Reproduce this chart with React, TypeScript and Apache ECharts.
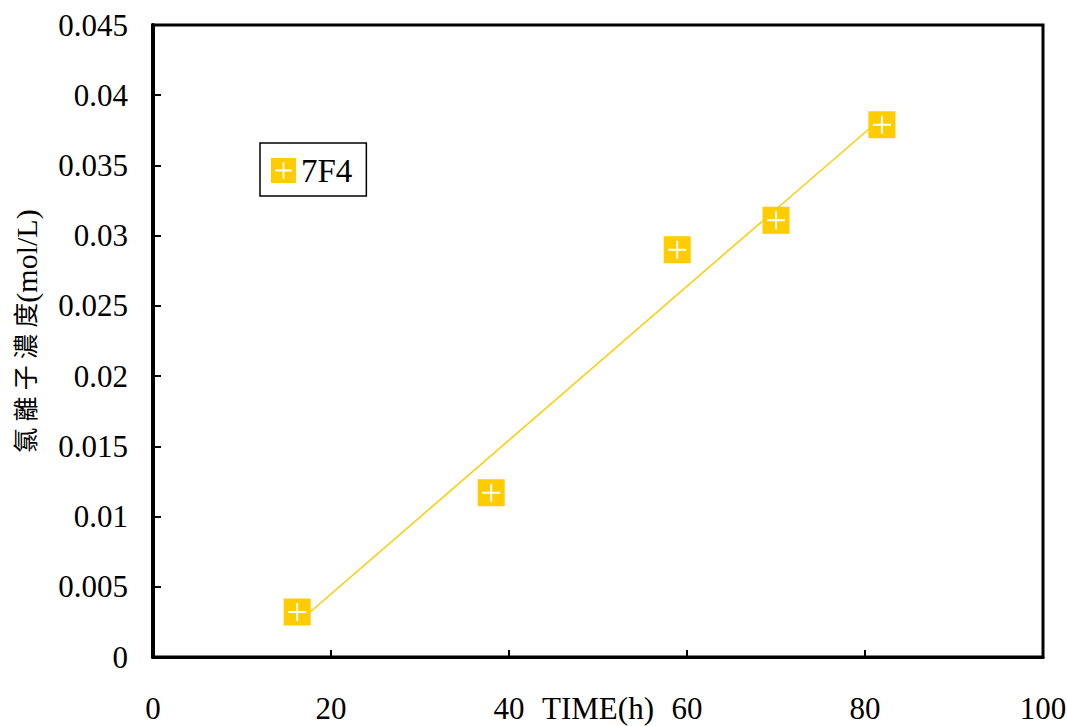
import React, { useEffect, useRef } from "react";
import * as echarts from "echarts";

const seriesName = "7F4";
const timeHours = [16.2, 38.0, 58.9, 70.0, 81.9];
const chlorideConc = [0.0032, 0.0117, 0.029, 0.0311, 0.0379];
const trendX = [16.2, 81.9];
const trendY = [0.0024, 0.0384];
const xTicks = { min: 0, max: 100, interval: 20 };
const yTicks = { min: 0, max: 0.045, interval: 0.005 };
const xName = "TIME(h)";
const yNameCjk = "氯 離 子 濃 度";
const yNameUnit = "(mol/L)";

const YELLOW = "#FFCC00";
const SERIF = "'Liberation Serif', 'Times New Roman', 'Noto Sans CJK TC', serif";

const HOLED =
  "path://M0 0H27V27H0Z M12.5 4.5L12.5 12.5L4.5 12.5L4.5 14.5L12.5 14.5L12.5 22.5L14.5 22.5L14.5 14.5L22.5 14.5L22.5 12.5L14.5 12.5L14.5 4.5Z";
const PLUS =
  "path://M12.5 4.5L14.5 4.5L14.5 12.5L22.5 12.5L22.5 14.5L14.5 14.5L14.5 22.5L12.5 22.5L12.5 14.5L4.5 14.5L4.5 12.5L12.5 12.5Z";

export default function App() {
  const ref = useRef<HTMLDivElement>(null);
  useEffect(() => {
    document.body.style.margin = "0";
    const chart = echarts.init(ref.current!, null, { renderer: "svg" });
    const pts = timeHours.map((x, i) => [x, chlorideConc[i]]);
    chart.setOption({
      animation: false,
      backgroundColor: "#fff",
      grid: {
        left: 153,
        right: 24,
        top: 25,
        bottom: 69,
        outerBoundsMode: "none",
        containLabel: false,
        show: true,
        borderColor: "#000",
        borderWidth: 3,
        backgroundColor: "transparent",
      },
      legend: {
        data: [{ name: seriesName, icon: HOLED }],
        left: 260,
        top: 143,
        orient: "vertical",
        itemWidth: 25,
        itemHeight: 26,
        itemGap: 0,
        padding: [11, 14, 9, 11],
        borderColor: "#000",
        borderWidth: 1.5,
        textStyle: { fontFamily: SERIF, fontSize: 33, color: "#000", padding: [4, 0, 0, 0] },
        selectedMode: false,
      },
      xAxis: {
        type: "value",
        min: xTicks.min,
        max: xTicks.max,
        interval: xTicks.interval,
        name: xName,
        nameLocation: "middle",
        nameGap: 51,
        nameMoveOverlap: false,
        nameTextStyle: {
          fontFamily: SERIF,
          fontSize: 31,
          color: "#000",
          verticalAlign: "middle",
          lineHeight: 30,
        },
        axisLine: { show: true, lineStyle: { color: "#000", width: 3 } },
        axisTick: { show: true, inside: true, length: 7, lineStyle: { color: "#000", width: 2 } },
        axisLabel: { fontFamily: SERIF, fontSize: 31, lineHeight: 30, color: "#000", margin: 36 },
        splitLine: { show: false },
      },
      yAxis: {
        type: "value",
        min: yTicks.min,
        max: yTicks.max,
        interval: yTicks.interval,
        axisLine: { show: true, lineStyle: { color: "#000", width: 4 } },
        axisTick: { show: true, inside: true, length: 8, lineStyle: { color: "#000", width: 2 } },
        axisLabel: { fontFamily: SERIF, fontSize: 31, color: "#000", margin: 25 },
        splitLine: { show: false },
      },
      graphic: [
        {
          type: "text",
          x: 26,
          y: 331,
          rotation: Math.PI / 2,
          style: {
            text: "{c|" + yNameCjk + "}{u|" + yNameUnit + "}",
            fontFamily: SERIF,
            fill: "#000",
            align: "center",
            verticalAlign: "middle",
            rich: {
              c: { fontFamily: SERIF, fontSize: 25, fill: "#000" },
              u: { fontFamily: SERIF, fontSize: 30, fill: "#000" },
            },
          },
        },
      ],
      series: [
        {
          type: "line",
          data: trendX.map((x, i) => [x, trendY[i]]),
          symbol: "none",
          lineStyle: { color: YELLOW, width: 1.5 },
          z: 1,
          silent: true,
        },
        {
          name: seriesName,
          type: "scatter",
          data: pts,
          symbol: HOLED,
          symbolSize: [27, 27],
          itemStyle: { color: YELLOW, opacity: 1 },
          z: 3,
        },
        {
          type: "scatter",
          data: pts,
          symbol: PLUS,
          symbolSize: [27, 27],
          itemStyle: { color: "#fff", opacity: 1 },
          z: 2,
          silent: true,
        },
      ],
    });
    return () => chart.dispose();
  }, []);
  return <div ref={ref} style={{ position: "fixed", left: 0, top: 0, width: 1067, height: 726 }} />;
}
